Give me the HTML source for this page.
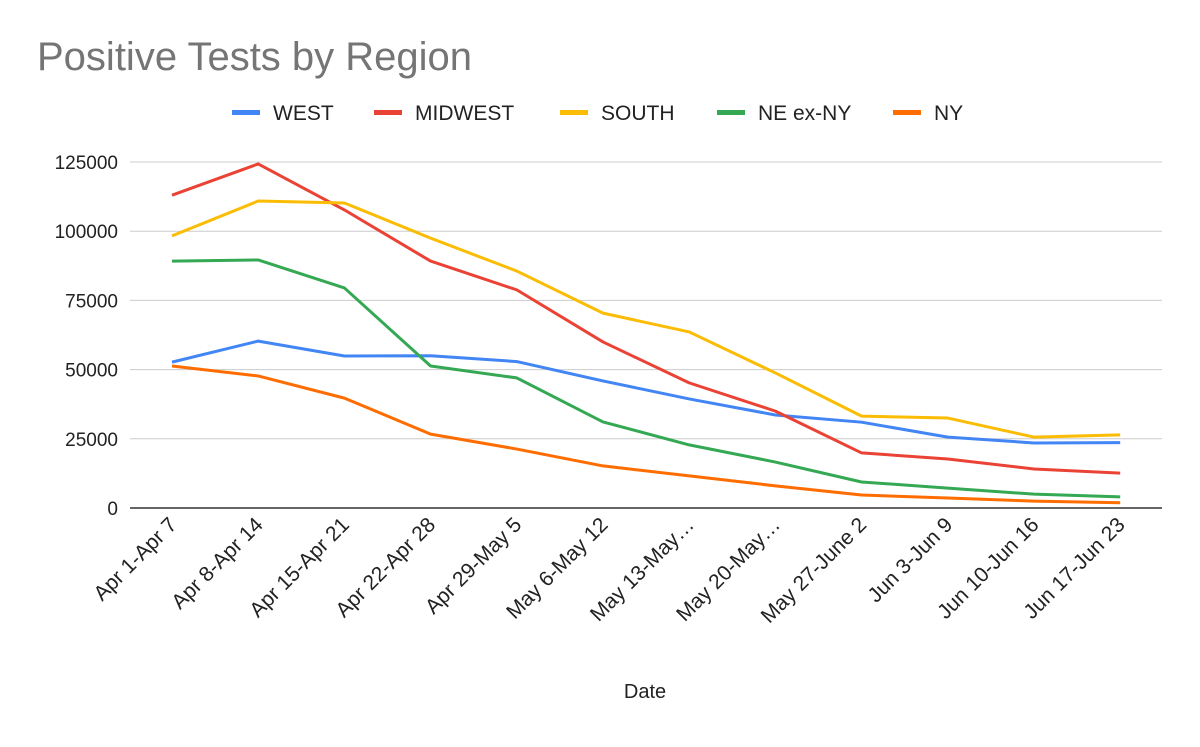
<!DOCTYPE html>
<html><head><meta charset="utf-8"><style>
body{margin:0;background:#fff;font-family:"Liberation Sans",Arial,sans-serif}
svg text{font-family:"Liberation Sans",Arial,sans-serif}
</style></head><body>
<svg id="chart" width="1200" height="742" viewBox="0 0 1200 742">
<rect width="1200" height="742" fill="#fff"/>
<text x="37" y="70" font-size="40" fill="#757575">Positive Tests by Region</text>
<g id="legend"></g>
<g id="grid"></g>
<g id="yaxis"></g>
<g id="xaxis"></g>
<g id="series"></g>
<text x="645" y="698" font-size="20" text-anchor="middle" fill="#222">Date</text>
</svg>
<script>
const categories=["Apr 1-Apr 7","Apr 8-Apr 14","Apr 15-Apr 21","Apr 22-Apr 28","Apr 29-May 5","May 6-May 12","May 13-May…","May 20-May…","May 27-June 2","Jun 3-Jun 9","Jun 10-Jun 16","Jun 17-Jun 23"];
const yTicks=[0,25000,50000,75000,100000,125000];
const seriesNames=["WEST","MIDWEST","SOUTH","NE ex-NY","NY"];
const west=[52700,60300,54900,55000,52900,45900,39400,33600,31000,25600,23500,23600];
const midwest=[113000,124300,107700,89200,78800,60000,45200,35000,19900,17700,14100,12600];
const south=[98300,110900,110200,97500,85600,70400,63600,48800,33200,32500,25600,26400];
const neexny=[89200,89600,79500,51300,47000,31100,22800,16600,9400,7200,5000,4000];
const ny=[51300,47700,39700,26700,21300,15200,11600,8000,4700,3600,2500,1900];
const colors=["#4285f4","#ea4335","#fbbc04","#34a853","#ff6d01"];
const allSeries=[west,midwest,south,neexny,ny];
const NS="http://www.w3.org/2000/svg";
const x0=172,dx=86.2,yBase=508,yTop=162,yMax=125000;
const xs=i=>x0+i*dx;
const ys=v=>yBase-(v/yMax)*(yBase-yTop);
function mk(t,a,p){const e=document.createElementNS(NS,t);for(const k in a)e.setAttribute(k,a[k]);p.appendChild(e);return e;}
const grid=document.getElementById('grid'),ya=document.getElementById('yaxis'),xa=document.getElementById('xaxis'),sg=document.getElementById('series'),lg=document.getElementById('legend');
yTicks.forEach(t=>{
 const l=mk('line',{x1:130,x2:1162,y1:ys(t),y2:ys(t),stroke:t===0?'#333':'#ccc','stroke-width':t===0?1.5:1},grid);
 
 
 const tx=mk('text',{x:118,y:ys(t)+7,'font-size':19,'text-anchor':'end',fill:'#222'},ya);
 
 
 tx.textContent=t;
});
categories.forEach((c,i)=>{
 const tx=mk('text',{x:xs(i)+6,y:526,'font-size':21,'text-anchor':'end',fill:'#222',transform:`rotate(-45 ${xs(i)+6} 526)`},xa);
 
 
 tx.textContent=c;
});
allSeries.forEach((s,k)=>{
 const p=mk('polyline',{points:s.map((v,i)=>xs(i)+','+ys(v)).join(' '),fill:'none',stroke:colors[k],'stroke-width':3,'stroke-linejoin':'round'},sg);
 
 
});
const legX=[232,374,560,717,893];
seriesNames.forEach((n,k)=>{
 const r=mk('rect',{x:legX[k],y:110,width:28,height:5,fill:colors[k]},lg);
 
 
 const t=mk('text',{x:legX[k]+41,y:120,'font-size':21,fill:'#222'},lg);
 
 
 t.textContent=n;
});
</script>
</body></html>
